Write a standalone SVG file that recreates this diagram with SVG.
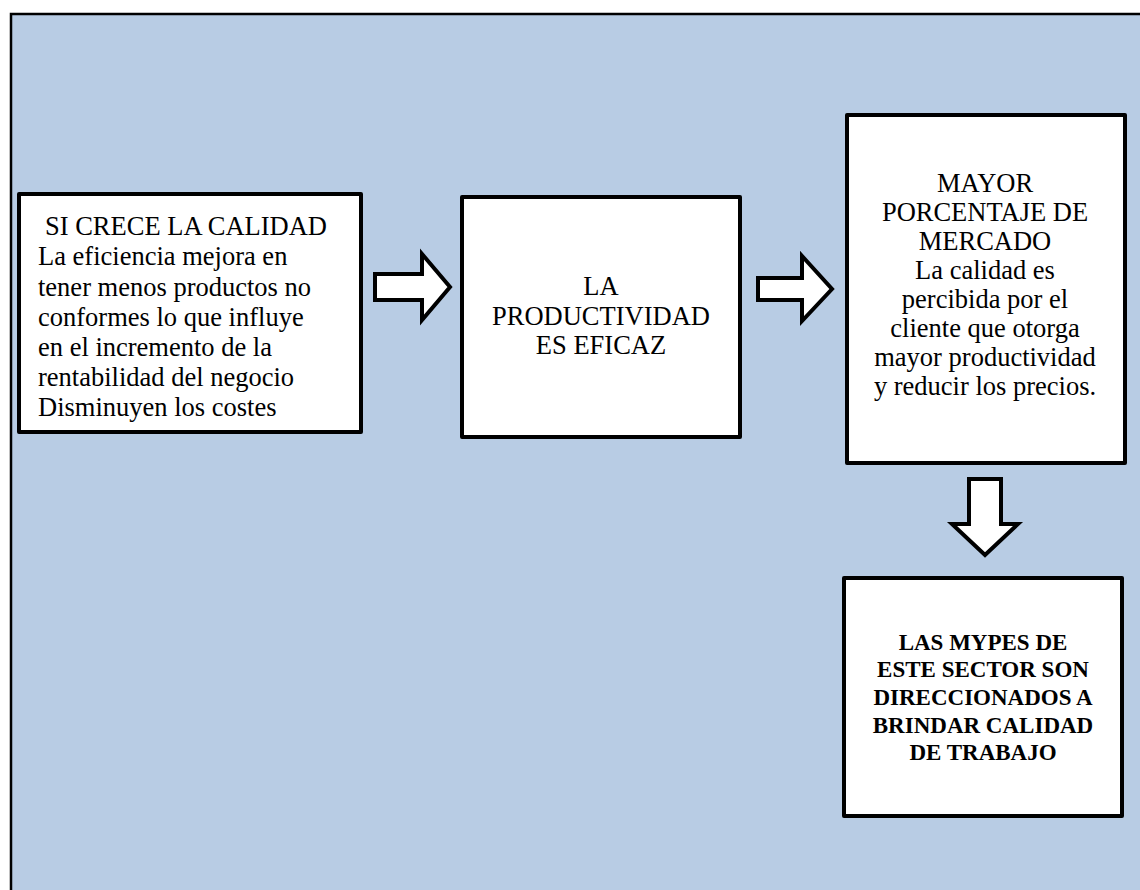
<svg xmlns="http://www.w3.org/2000/svg" width="1140" height="890" viewBox="0 0 1140 890">
  <style>
    .box { fill: #ffffff; stroke: #000000; stroke-width: 4; stroke-linejoin: round; }
    .arrow { fill: #ffffff; stroke: #000000; stroke-width: 4; stroke-linejoin: miter; }
    .t { font-size: 26.5px; fill: #000000; }
    .c { text-anchor: middle; }
    .b { font-weight: bold; font-size: 23px; }
  </style>

  <!-- page background with frame -->
  <rect x="0" y="0" width="1140" height="890" fill="#ffffff"/>
  <rect x="11" y="14" width="1140" height="890" fill="#B8CCE4" stroke="#000000" stroke-width="2.5"/>

  <!-- block arrows -->
  <g id="connectors">
    <path class="arrow" d="M375,274 H422 V254 L450,287 L422,320 V300 H375 Z"/>
    <path class="arrow" d="M758,278 H802 V256 L832,289 L802,321 V300 H758 Z"/>
    <path class="arrow" d="M969,479 H1001 V524 H1018 L985,555 L952,524 H969 Z"/>
  </g>

  <g font-family="'Liberation Serif', 'Times New Roman', 'Noto Serif', 'DejaVu Serif', serif">
    <g id="node-calidad">
      <rect class="box" x="19" y="194" width="342" height="238"/>
      <text class="t" x="45" y="235">SI CRECE LA CALIDAD</text>
      <text class="t" x="38" y="265">La eficiencia mejora en</text>
      <text class="t" x="38" y="296">tener menos productos no</text>
      <text class="t" x="38" y="326">conformes lo que influye</text>
      <text class="t" x="38" y="356">en el incremento de la</text>
      <text class="t" x="38" y="386">rentabilidad del negocio</text>
      <text class="t" x="38" y="416">Disminuyen los costes</text>
    </g>

    <g id="node-productividad">
      <rect class="box" x="462" y="197" width="278" height="240"/>
      <text class="t c" x="601" y="295">LA</text>
      <text class="t c" x="601" y="325">PRODUCTIVIDAD</text>
      <text class="t c" x="601" y="354">ES EFICAZ</text>
    </g>

    <g id="node-mercado">
      <rect class="box" x="847" y="115" width="278" height="348"/>
      <text class="t c" x="985" y="192">MAYOR</text>
      <text class="t c" x="985" y="221">PORCENTAJE DE</text>
      <text class="t c" x="985" y="250">MERCADO</text>
      <text class="t c" x="985" y="279">La calidad es</text>
      <text class="t c" x="985" y="308">percibida por el</text>
      <text class="t c" x="985" y="337">cliente que otorga</text>
      <text class="t c" x="985" y="366">mayor productividad</text>
      <text class="t c" x="985" y="395">y reducir los precios.</text>
    </g>

    <g id="node-mypes">
      <rect class="box" x="844" y="578" width="278" height="238"/>
      <text class="t c b" x="983" y="650">LAS MYPES DE</text>
      <text class="t c b" x="983" y="677">ESTE SECTOR SON</text>
      <text class="t c b" x="983" y="705">DIRECCIONADOS A</text>
      <text class="t c b" x="983" y="733">BRINDAR CALIDAD</text>
      <text class="t c b" x="983" y="760">DE TRABAJO</text>
    </g>
  </g>
</svg>
